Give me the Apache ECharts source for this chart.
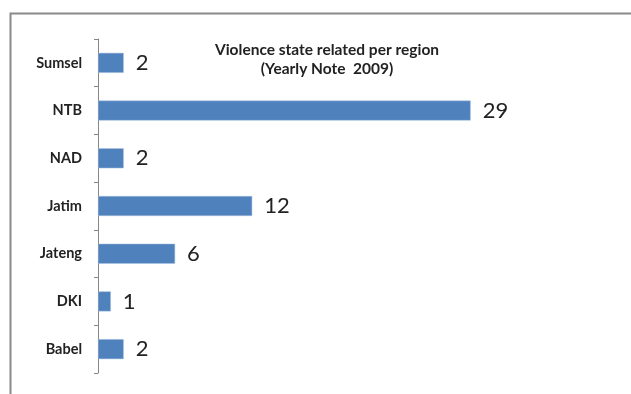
<!DOCTYPE html>
<html>
<head>
<meta charset="utf-8">
<script src="https://cdn.jsdelivr.net/npm/echarts@6/dist/echarts.min.js"></script>
<style>
  html, body { margin: 0; padding: 0; background: #fff; }
  #main { width: 631px; height: 394px; }
</style>
</head>
<body>
<div id="main"></div>
<script>
"use strict";

// 类别（自下而上）
let regions = ["Babel", "DKI", "Jateng", "Jatim", "NAD", "NTB", "Sumsel"];
// 数值
let counts = [2, 1, 6, 12, 2, 29, 2];

let myChart = echarts.init(document.getElementById('main'));

let option = {
    animation: false,
    title: { // 标题
        text: "Violence state related per region\n(Yearly Note  2009)",
        left: 322,
        top: 35,
        textAlign: 'center',
        textStyle: {
            fontFamily: 'Lato',
            fontWeight: 'bold',
            fontSize: 15.5,
            lineHeight: 19,
            color: '#222',
        },
    },
    graphic: [ // 外框
        {
            type: 'rect',
            left: 8,
            top: 11,
            shape: { width: 700, height: 500 },
            style: { fill: 'none', stroke: '#8a8a8a', lineWidth: 2 },
            silent: true,
        },
    ],
    grid: {
        left: 98,
        top: 39,
        right: 19,
        bottom: 21,
    },
    xAxis: {
        type: 'value',
        min: 0,
        max: 40,
        show: false,
    },
    yAxis: {
        type: 'category',
        data: regions,
        axisLine: {
            show: true,
            lineStyle: { color: '#868686', width: 1 },
        },
        axisTick: {
            show: true,
            length: 4,
            lineStyle: { color: '#868686' },
        },
        axisLabel: {
            margin: 16,
            fontFamily: 'Lato',
            fontWeight: 'bold',
            fontSize: 14.5,
            color: '#222',
        },
        splitLine: { show: false },
    },
    series: [
        {
            type: 'bar',
            data: counts,
            barWidth: 20,
            itemStyle: {
                color: '#4f81bd',
                borderColor: '#a9c1e0',
                borderWidth: 0.5,
            },
            label: {
                show: true,
                position: 'right',
                distance: 12,
                fontFamily: 'Lato',
                fontSize: 22,
                color: '#222',
            },
        },
    ],
};

myChart.setOption(option);
</script>
</body>
</html>
